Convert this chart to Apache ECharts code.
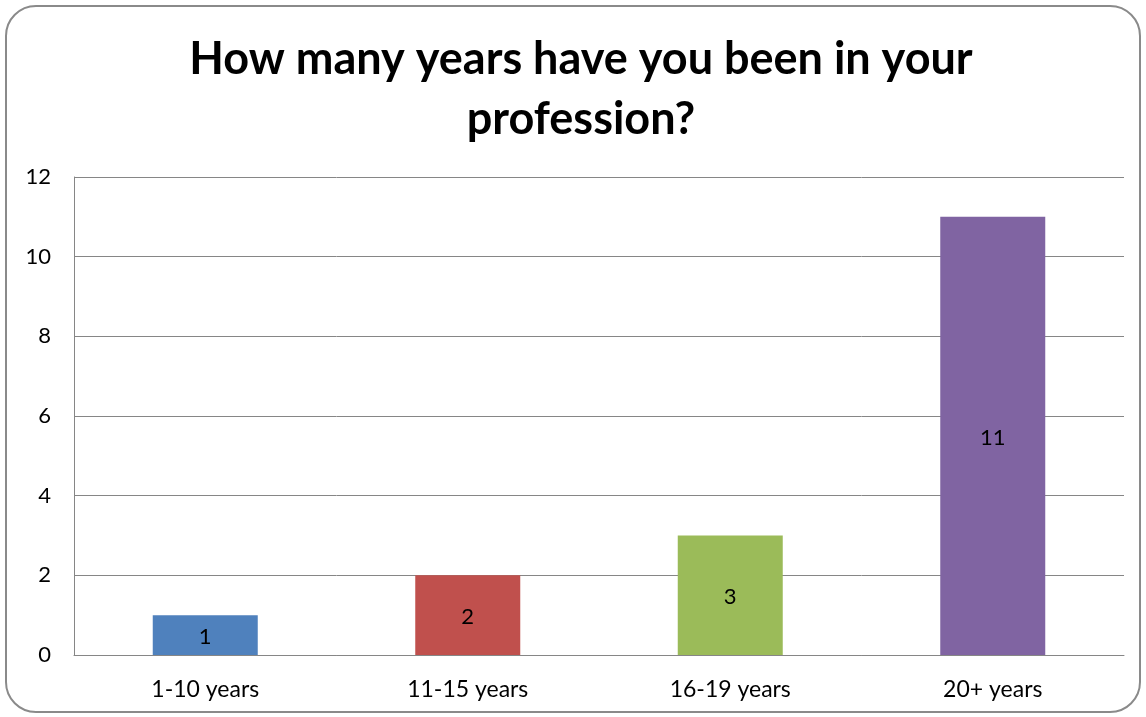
<!DOCTYPE html>
<html><head><meta charset="utf-8">
<script src="https://cdn.jsdelivr.net/npm/echarts@6/dist/echarts.min.js"></script>
<style>html,body{margin:0;padding:0;background:#fff}#c{width:1146px;height:717px}</style>
</head><body><div id="c"></div>
<script>
const categories = ['1-10 years','11-15 years','16-19 years','20+ years'];
const values = [1, 2, 3, 11];
const barColors = ['#4F81BD','#C0504D','#9BBB59','#8064A2'];
const yTicks = {min:0, max:12, interval:2};
const titleText = 'How many years have you been in your\nprofession?';

const chart = echarts.init(document.getElementById('c'));
const font = 'Lato, "Open Sans", sans-serif';
chart.setOption({
  animation:false,
  graphic:[{type:'rect', shape:{x:6, y:6, width:1134, height:706, r:30},
    style:{fill:'none', stroke:'#8a8a8a', lineWidth:2}, z:-1}],
  title:{text:titleText, left:576, textAlign:'center', top:24,
    textStyle:{fontFamily:font, fontSize:45, fontWeight:'bold', color:'#000', lineHeight:60}},
  grid:{left:74, right:22, top:177, bottom:62},
  xAxis:{type:'category', data:categories,
    axisLine:{lineStyle:{color:'#868686', width:1}}, axisTick:{show:false},
    axisLabel:{fontFamily:font, fontSize:23, color:'#000', margin:23}},
  yAxis:{type:'value', min:yTicks.min, max:yTicks.max, interval:yTicks.interval,
    axisLine:{show:true, lineStyle:{color:'#868686'}}, axisTick:{show:false},
    splitLine:{lineStyle:{color:'#868686'}},
    axisLabel:{fontFamily:font, fontSize:22, color:'#000', margin:23}},
  series:[{type:'bar', barWidth:'40%',
    data:values.map((v,i)=>({value:v, itemStyle:{color:barColors[i]}})),
    label:{show:true, position:'inside', fontFamily:font, fontSize:22, color:'#000', offset:[0,2]}}]
});
</script></body></html>
